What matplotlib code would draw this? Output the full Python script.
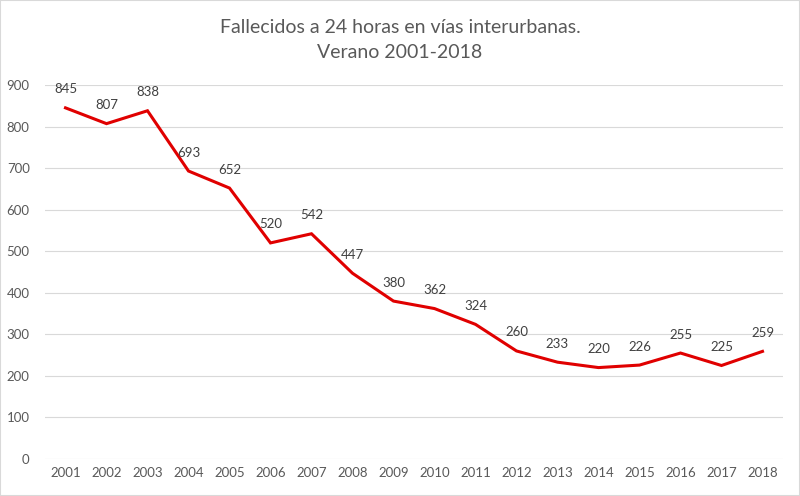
import matplotlib.pyplot as plt
from matplotlib.patches import Rectangle

years = [str(y) for y in range(2001, 2019)]
deaths = [845, 807, 838, 693, 652, 520, 542, 447, 380, 362, 324,
          260, 233, 220, 226, 255, 225, 259]
yticks = list(range(0, 1000, 100))

plt.rcParams['font.family'] = ['Lato', 'DejaVu Sans']
text_col = '#595959'

fig = plt.figure(figsize=(8, 4.96), dpi=100)
ax = fig.add_axes([45 / 800, 37 / 496, 738 / 800, 374 / 496])

x = list(range(len(years)))
ax.plot(x, deaths, color='#E00000', lw=2.2, solid_joinstyle='miter')
for xi, v in zip(x, deaths):
    ax.annotate(str(v), (xi, v), xytext=(0, 9), textcoords='offset points',
                ha='center', va='bottom', fontsize=9.5, color='#404040')

ax.set_xlim(-0.5, len(years) - 0.5)
ax.set_ylim(0, 900)
ax.set_yticks(yticks)
ax.set_xticks(x)
ax.set_xticklabels(years)
ax.tick_params(length=0, labelsize=9.5, colors=text_col)
ax.tick_params(axis='y', pad=11)
ax.tick_params(axis='x', pad=6)
ax.grid(axis='y', color='#D9D9D9', lw=0.8)
ax.set_axisbelow(True)
for s in ax.spines.values():
    s.set_visible(False)

fig.text(0.5, 1 - 40 / 496, 'Fallecidos a 24 horas en vías interurbanas.\nVerano 2001-2018',
         ha='center', va='center', fontsize=14, color=text_col, linespacing=1.55)

fig.patches.append(Rectangle((0, 0), 1, 1, transform=fig.transFigure,
                             fill=False, ec='#D9D9D9', lw=1.5))

fig.savefig('out.png', dpi=100)
